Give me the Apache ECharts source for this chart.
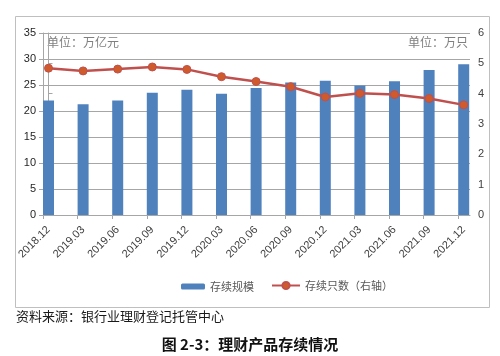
<!DOCTYPE html>
<html>
<head>
<meta charset="utf-8">
<script src="https://cdn.jsdelivr.net/npm/echarts@6/dist/echarts.min.js"></script>
<style>
html,body{margin:0;padding:0;background:#fff;}
#chart{width:500px;height:356px;}
</style>
</head>
<body>
<div id="chart"></div>
<script>
// ---- data ----
var categories = ['2018.12','2019.03','2019.06','2019.09','2019.12','2020.03','2020.06','2020.09','2020.12','2021.03','2021.06','2021.09','2021.12'];
var scaleValues = [22.0, 21.3, 22.0, 23.5, 24.1, 23.3, 24.4, 25.5, 25.8, 24.9, 25.7, 27.9, 29.0];   // 存续规模 (万亿元)
var countValues = [4.84, 4.75, 4.81, 4.88, 4.80, 4.56, 4.40, 4.23, 3.89, 4.01, 3.97, 3.84, 3.63];   // 存续只数 (万只)
var leftTicks = [0, 5, 10, 15, 20, 25, 30, 35];
var rightTicks = [0, 1, 2, 3, 4, 5, 6];

var idx = categories.map(function (_, i) { return i; });
var barData = scaleValues.map(function (v, i) { return [i, v]; });
var lineData = countValues.map(function (v, i) { return [i, v]; });

var chart = echarts.init(document.getElementById('chart'), null, {renderer: 'canvas'});
var axisColor = '#a6a6a6';
var font = 'Liberation Sans, Arial, sans-serif';
var cjk = '"Noto Sans CJK SC", sans-serif';

chart.setOption({
  animation: false,
  backgroundColor: '#fff',
  grid: {left: 43, right: 30, top: 33, height: 182, containLabel: false},
  xAxis: [
    {
      type: 'value', position: 'bottom',
      min: 0, max: 12.341,
      axisLine: {show: true, lineStyle: {color: axisColor, width: 1}},
      axisTick: {show: true, length: 4, lineStyle: {color: axisColor}, customValues: idx},
      axisLabel: {show: false},
      splitLine: {show: false}
    },
    {
      type: 'value', position: 'bottom',
      min: -0.159, max: 12.182,
      axisLine: {show: false},
      axisTick: {show: false},
      splitLine: {show: false},
      axisLabel: {
        show: true, customValues: idx, rotate: 45, margin: 13,
        fontFamily: font, fontSize: 11, color: '#404040',
        formatter: function (v) { var c = categories[Math.round(v)]; return c === undefined ? '' : c; }
      }
    }
  ],
  yAxis: [
    {
      type: 'value', position: 'left',
      min: leftTicks[0], max: leftTicks[leftTicks.length - 1], interval: 5,
      axisLine: {show: true, lineStyle: {color: axisColor}},
      axisTick: {show: true, length: 4, lineStyle: {color: axisColor}},
      axisLabel: {fontFamily: font, fontSize: 11, color: '#262626', margin: 7},
      splitLine: {show: true, lineStyle: {color: axisColor, width: 1}}
    },
    {
      type: 'value', position: 'right',
      min: rightTicks[0], max: rightTicks[rightTicks.length - 1], interval: 1,
      axisLine: {show: true, lineStyle: {color: axisColor}},
      axisTick: {show: true, length: 4, lineStyle: {color: axisColor}},
      axisLabel: {fontFamily: font, fontSize: 11, color: '#404040', margin: 8},
      splitLine: {show: false}
    }
  ],
  legend: [
    {
      data: ['存续规模'], left: 176, top: 276, itemWidth: 24, itemHeight: 6,
      textStyle: {fontFamily: cjk, fontSize: 11, color: '#595959'}, itemGap: 0
    },
    {
      data: ['存续只数（右轴）'], left: 266, top: 275, itemWidth: 28, itemHeight: 9,
      textStyle: {fontFamily: cjk, fontSize: 11, color: '#595959'}, itemGap: 0
    }
  ],
  series: [
    {
      name: '存续规模', type: 'bar', xAxisIndex: 1, yAxisIndex: 0,
      data: barData, barWidth: 11,
      itemStyle: {color: '#4f81bd'}
    },
    {
      name: '存续只数（右轴）', type: 'line', xAxisIndex: 1, yAxisIndex: 1,
      data: lineData, symbol: 'circle', symbolSize: 8,
      lineStyle: {color: '#c0504d', width: 2.5},
      itemStyle: {color: '#cf5a2c', borderColor: '#c0504d', borderWidth: 1},
      z: 5
    }
  ],
  graphic: [
    {type: 'rect', shape: {x: 15.5, y: 16.5, width: 474, height: 291}, style: {fill: 'none', stroke: '#bfbfbf', lineWidth: 1}, z: -1},
    {type: 'text', left: 47, top: 36, style: {text: '单位：万亿元', font: '12px ' + cjk, fill: '#7f7f7f'}},
    {type: 'text', right: 32, top: 36, style: {text: '单位：万只', font: '12px ' + cjk, fill: '#7f7f7f'}},
    {type: 'text', left: 16, top: 310, style: {text: '资料来源：银行业理财登记托管中心', font: '13px ' + cjk, fill: '#1a1a1a'}},
    {type: 'text', left: 'center', top: 337, style: {text: '图 2-3：理财产品存续情况', font: 'bold 15px ' + cjk, fill: '#111'}}
  ]
});
</script>
</body>
</html>
